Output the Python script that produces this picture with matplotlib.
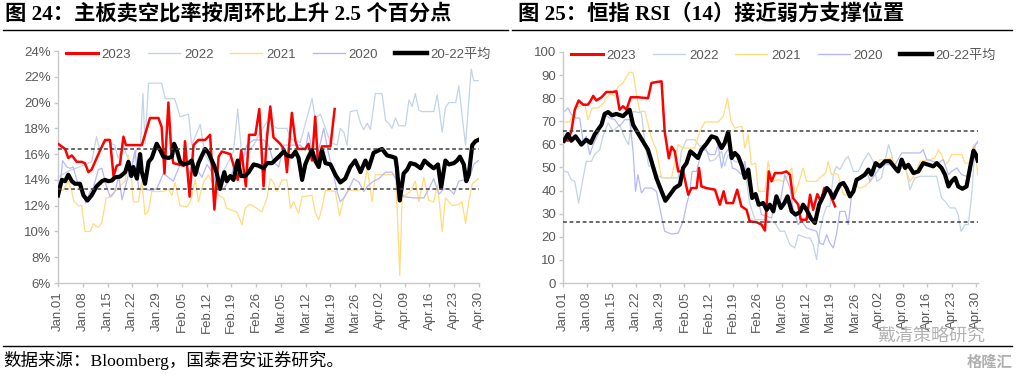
import matplotlib
matplotlib.use("Agg")
import matplotlib.pyplot as plt
from matplotlib.lines import Line2D

plt.rcParams['font.family'] = ['Liberation Sans', 'Noto Sans CJK SC', 'DejaVu Sans']

# ---------------- data ----------------
tick_days = [0, 7, 14, 21, 28, 35, 42, 49, 56, 63, 70, 77, 84, 91, 98, 105, 112, 119]
tick_labels = ["Jan.01", "Jan.08", "Jan.15", "Jan.22", "Jan.29", "Feb.05", "Feb.12", "Feb.19",
               "Feb.26", "Mar.05", "Mar.12", "Mar.19", "Mar.26", "Apr.02", "Apr.09", "Apr.16",
               "Apr.23", "Apr.30"]
series_names = ["2023", "2022", "2021", "2020", "20-22平均"]

# Left panel: short-selling ratio (%)
l23_d = [0, 2, 2.9, 3.9, 5.3, 6.7, 7.6, 8.6, 9.5, 11.9, 13.3, 14.7, 15.7, 16.6, 17.5, 18.5, 19.2, 23.7,
         26, 28.4, 29.3, 30.1, 31.2, 32, 32.6, 35.5, 35.9, 37.2, 38.3, 39.7, 41.6, 43, 44.2, 45.4, 46.3,
         48.7, 50.8, 51.8, 53.1, 54, 55.8, 56.9, 58.1, 59.1, 60, 60.9, 62.8, 64.1, 64.7, 66.1, 67.1,
         67.8, 69.9, 70.8, 71.8, 72.7, 73.5, 74.6, 77, 78.2]
l23_v = [16.8, 16.4, 15.7, 15.9, 15.4, 15.4, 15.3, 14.6, 14.8, 16.3, 17.1, 17.1, 14.3, 15.1, 15.2, 17.35,
         16.7, 16.7, 18.8, 18.8, 18.1, 14.5, 20.0, 16.3, 15.3, 15.1, 17.0, 12.7, 16.7, 17.1, 17.1, 17.5,
         11.7, 15.8, 16.2, 16.0, 14.0, 16.3, 13.5, 17.5, 17.5, 19.5, 13.5, 17.4, 19.7, 17.3, 16.8, 16.3,
         14.6, 19.2, 17.0, 16.4, 16.4, 16.8, 15.5, 18.9, 15.3, 16.6, 16.6, 19.5]

l22_d = [0, 3, 6, 9.5, 10.9, 11.8, 13.6, 16, 17, 18.5, 20.8, 22.3, 23.3, 24, 24.6, 25.6, 29.3, 30.3, 33,
         34.5, 36.9, 37.8, 40.2, 41.6, 45.8, 49.6, 50.8, 52, 55.3, 57.2, 59.1, 61.9, 64.7, 65.7, 68.5,
         71.8, 72.7, 74.2, 75.6, 77, 78.9, 79.8, 80.8, 81.7, 82.6, 84.5, 85.5, 86.4, 87.4, 88.3, 89.7,
         91.6, 92.6, 93.5, 94.4, 95.4, 96.3, 98.2, 99.2, 100.1, 101, 102, 102.9, 106.2, 107.2, 108.6,
         109.5, 110.5, 112.4, 113.3, 114.3, 115.2, 116.1, 116.8, 117.5, 118.8]
l22_v = [14.2, 14.7, 15.0, 15.4, 17.35, 16.3, 17.0, 16.7, 15.7, 16.6, 15.0, 16.4, 16.6, 20.7, 16.8, 21.5,
         21.5, 20.3, 20.3, 18.9, 19.1, 16.7, 18.3, 15.9, 14.1, 16.2, 19.5, 15.7, 16.7, 17.7, 18.5, 18.0,
         18.0, 17.2, 16.9, 20.3, 18.8, 19.1, 18.0, 16.9, 16.7, 18.0, 17.7, 16.7, 19.3, 19.4, 18.4, 17.9,
         18.4, 17.9, 20.7, 20.7, 18.6, 18.4, 18.0, 18.8, 18.2, 18.2, 20.2, 19.7, 20.7, 19.4, 19.3, 19.3,
         20.6, 17.7, 19.6, 20.0, 20.0, 21.3, 18.8, 16.7, 20.1, 22.6, 21.7, 21.7]

l21_d = [0, 1.5, 2.9, 3.9, 4.5, 5.8, 6.7, 7.6, 9.1, 10, 11.4, 12.4, 13.6, 15.2, 16.1, 17.5, 19, 19.9,
         20.8, 21.3, 22.7, 23.7, 24.6, 25.6, 26.5, 29.8, 31.2, 32.2, 33.1, 34.5, 36.4, 37.4, 38.8, 39.7,
         41.1, 42.5, 44, 45.4, 46.8, 47.7, 50.6, 52, 52.9, 54.3, 56.2, 57.6, 59.1, 60, 60.9, 61.9, 63.3,
         64.7, 65.7, 66.6, 68, 69, 71.8, 72.7, 73.7, 74.6, 75.6, 78.4, 79.6, 80.8, 82.2, 84.9, 86.4, 87.4,
         88.8, 89.7, 95.4, 96, 96.6, 97.3, 98.2, 99.6, 101, 102, 103.4, 104.8, 106.2, 107.2, 107.9,
         108.6, 109.5, 110.5, 111.4, 113.3, 114.2, 115.2, 116.1, 117.1, 118.8]
l21_v = [13.1, 13.2, 13.9, 13.1, 12.3, 12.0, 12.0, 10.0, 10.0, 10.6, 10.3, 10.7, 12.6, 12.7, 13.1, 13.5,
         13.9, 15.9, 14.1, 12.3, 12.3, 13.9, 11.3, 11.6, 13.1, 13.1, 13.3, 12.8, 13.8, 12.0, 11.9, 12.3,
         14.0, 12.3, 13.8, 14.4, 13.6, 12.8, 12.6, 11.8, 11.5, 10.5, 11.8, 12.1, 11.8, 11.5, 12.6, 14.1,
         13.8, 13.1, 14.0, 14.0, 11.8, 12.3, 11.4, 12.7, 12.8, 11.5, 10.9, 11.8, 13.2, 13.1, 11.2, 12.6,
         13.2, 13.2, 13.3, 14.9, 12.3, 14.4, 14.4, 10.8, 6.6, 12.8, 12.8, 13.1, 13.9, 12.3, 14.2, 12.4,
         12.3, 13.6, 12.0, 10.0, 12.6, 12.3, 12.0, 12.1, 12.3, 10.6, 12.3, 13.7, 14.1]

l20_d = [0, 0.7, 1.3, 2.5, 3.4, 4.3, 5.7, 7.2, 7.8, 9.1, 10, 11.4, 12.4, 13.6, 14.7, 16.1, 17.2, 18.1,
         19.9, 20.8, 21.8, 22.8, 26.5, 27.9, 29.8, 31.2, 32.6, 34.5, 35.9, 37.4, 39.3, 40.7, 42.1, 44,
         44.9, 46.8, 48.7, 50.1, 51.5, 53.4, 55.3, 58.1, 59.5, 60.9, 62.4, 63.8, 68.5, 69.9, 70.8, 71.8,
         72.7, 74.2, 75.1, 76.5, 77.9, 78.9, 79.8, 80.8, 82.2, 83.6, 85.1, 86.4, 87.8, 89.2, 90.7, 92.6,
         94.4, 95.8, 96.8, 97.7, 100.6, 103.4, 104.8, 106.2, 107.7, 109.1, 110.5, 111.9, 113.3, 114.7,
         115.7, 116.6, 117.5, 118.8]
l20_v = [12.3, 13.8, 15.5, 15.0, 14.9, 15.0, 13.6, 13.1, 12.2, 13.1, 13.4, 14.8, 14.9, 13.6, 12.7, 13.1,
         14.3, 12.45, 14.4, 15.0, 16.3, 13.3, 13.2, 13.3, 14.5, 14.2, 13.9, 15.2, 15.5, 14.4, 14.8, 14.2,
         15.2, 14.4, 13.2, 13.3, 14.1, 15.4, 14.9, 16.7, 17.1, 17.1, 16.7, 15.4, 15.0, 16.7, 16.7, 16.3,
         17.7, 16.3, 15.4, 16.9, 18.0, 16.0, 14.4, 13.1, 12.3, 12.6, 13.3, 14.1, 13.8, 13.1, 13.6, 13.9,
         14.1, 14.6, 14.6, 13.9, 13.1, 12.7, 12.6, 12.6, 13.3, 14.1, 12.9, 13.3, 13.3, 12.9, 13.9, 14.0,
         14.1, 14.4, 15.2, 15.5]

lavg_d = [0, 0.6, 1.1, 2, 2.9, 3.9, 4.8, 6.2, 7.2, 8.3, 9.5, 10.9, 12.4, 13.3, 14.2, 15.2, 16.1, 17.5, 19,
          19.9, 20.7, 21.3, 22.3, 23.2, 23.7, 24.6, 25.6, 26.5, 27.9, 28.9, 29.8, 31.2, 32.2, 32.8, 33.6,
          34.5, 35.5, 36.9, 37.8, 38.8, 39.7, 40.7, 41.6, 42.5, 44, 44.9, 45.8, 47, 47.7, 48.7, 49.6, 50.8,
          51.7, 52.9, 53.9, 55.3, 56.7, 58.1, 59.1, 60.5, 62.4, 63.8, 64.7, 66.1, 67.1, 68, 69, 69.9, 70.8,
          71.8, 72.7, 73.7, 74.6, 75.6, 77, 78.4, 79.8, 81.2, 82.6, 84, 85.5, 86.9, 87.8, 89.2, 90.7, 91.6,
          93, 94.4, 95.4, 95.8, 96.6, 97.7, 98.7, 99.6, 101, 102.5, 103.6, 104.8, 106.2, 107.4, 108.3,
          109.5, 110.5, 111.9, 112.8, 113.6, 114.7, 115.4, 116.1, 117.1, 118, 118.8]
lavg_v = [12.8, 13.5, 14.0, 13.9, 14.4, 13.9, 13.7, 13.7, 12.8, 12.4, 12.8, 13.5, 13.9, 14.0, 13.9, 13.95,
          14.2, 14.25, 14.6, 15.4, 14.3, 15.0, 14.1, 16.0, 14.6, 13.7, 15.4, 15.7, 16.8, 16.3, 15.8, 15.7,
          15.8, 16.8, 16.3, 15.4, 15.2, 15.3, 15.5, 14.4, 15.3, 15.9, 16.4, 16.1, 15.2, 14.5, 13.3, 14.6,
          13.9, 14.3, 14.0, 15.5, 14.3, 14.3, 14.6, 15.2, 15.1, 14.9, 15.3, 15.3, 15.8, 16.2, 15.9, 15.8,
          16.2, 15.7, 14.0, 15.2, 15.8, 16.3, 15.5, 15.0, 16.3, 15.3, 15.2, 14.4, 13.8, 14.1, 15.0, 15.5,
          14.6, 15.5, 14.9, 16.1, 16.3, 16.4, 15.9, 15.8, 15.7, 14.9, 12.4, 14.5, 14.8, 15.3, 15.2, 14.9,
          15.5, 15.2, 14.9, 15.2, 13.4, 15.5, 15.2, 15.3, 15.5, 15.8, 15.2, 13.9, 14.4, 16.7, 17.0, 17.1]
l_bands = [16.4, 13.3]

# Right panel: Hang Seng RSI(14)
r23_d = [0.5, 1.4, 2.4, 3.4, 4.5, 5.8, 7.2, 8, 8.7, 9.6, 11.1, 12.5, 14.4, 15.4, 16.3, 17.3, 18.3, 19.5,
         21.6, 24.5, 25.5, 26.9, 28.4, 29.3, 30.5, 31.3, 32.2, 33.2, 34.6, 36.1, 37, 38.5, 39.2, 39.9,
         41.3, 43.8, 45.2, 46.3, 47.1, 49, 50.2, 51.4, 52.9, 53.8, 55.8, 57.2, 58.2, 59.3, 60.1, 61.1,
         63, 64.4, 65.4, 66.3, 67.8, 68.5, 70.2, 71.2, 72.1, 73.3, 74.3, 75.3, 76.4, 77.4, 78.4]
r23_v = [62, 61.6, 65.7, 75, 79, 77.2, 77.2, 79, 81, 79, 80.4, 82.7, 82.7, 83, 75, 76.5, 75, 80.4, 80.4,
         80, 86.6, 87, 87.3, 65.6, 54, 59, 57, 48.3, 48.3, 38.2, 41.1, 41.1, 49.8, 41.8, 41.1, 40.4, 33.9,
         39.7, 34.6, 34.6, 40.4, 33.2, 31.7, 26.7, 26.3, 25.3, 22.7, 48.3, 44, 47.6, 47.6, 48.3, 46.9,
         36.8, 33.9, 27.4, 27.4, 38.2, 31.7, 38.5, 35.4, 41.1, 41.1, 36.8, 33.2]

r22_d = [0.5, 1.4, 2.4, 3.4, 4.5, 5.5, 6.7, 8.2, 9.1, 10.6, 11.5, 13, 14.4, 16.3, 17.8, 18.9, 20.2, 22.6,
         23.6, 24.7, 26, 27.4, 29.3, 33.2, 34.1, 35.6, 38, 39.4, 40.9, 42.3, 43.8, 45.7, 46.6, 47.6, 49.5,
         51, 52.4, 53.8, 55.3, 58.2, 59.6, 61.1, 62.5, 63.9, 65.4, 66.8, 67.8, 70.2, 71.2, 72.1, 73.1, 74,
         75, 76, 76.9, 77.9, 78.8, 79.8, 81.3, 82.2, 83.7, 85.1, 86.5, 88, 89.4, 90.4, 91.8, 92.8, 93.8,
         94.7, 95.7, 97.1, 98.6, 100, 101.4, 102.9, 107.7, 108.2, 109.1, 110.1, 111.5, 113, 113.9, 114.7,
         115.9, 116.8, 117.8, 118.8, 119.5]
r22_v = [48.3, 48, 44.7, 44, 34.6, 43, 52.7, 52.7, 55.6, 57.7, 63.5, 69.3, 65.7, 68.5, 62.8, 59.9, 74.3,
         73.6, 60.6, 50.5, 51.2, 46.2, 45.5, 45.5, 57, 62, 62, 59.2, 59.9, 52.7, 53.4, 57, 50.5, 55.6,
         52.7, 52, 49.8, 34.6, 27.4, 27.4, 26.7, 26, 22.4, 22.4, 16.6, 15.2, 20.9, 19.5, 19.5, 16.6, 10.1,
         22.4, 28.9, 33.2, 33.2, 46.9, 50.5, 49.1, 53.4, 54.8, 48.3, 48.3, 52.7, 56.3, 52.7, 44, 45.5,
         52.7, 59.9, 55.6, 48.3, 49, 51.2, 40.4, 45.5, 46.2, 46.2, 42.6, 36.8, 35.4, 32.5, 32.5, 29.6,
         22.4, 25.3, 25.3, 38.2, 59.9, 60.6]

r21_d = [0.5, 1.9, 2.9, 3.8, 4.8, 6.3, 7.2, 8.4, 10.1, 11.5, 12.5, 13.5, 14.9, 15.9, 17.3, 18.3, 19.2,
         20.2, 21.2, 22.1, 23.6, 25.5, 26.9, 28.4, 31.3, 33.2, 34.6, 38, 39.4, 40.9, 44.7, 46.2, 47.4,
         48.4, 49.5, 51.6, 52.4, 53.4, 54.3, 55.5, 56.3, 58.2, 59.1, 60.1, 62, 63.5, 64.9, 65.9, 66.8,
         67.8, 69.2, 70.2, 73.1, 74.5, 75.7, 76.4, 77.4, 78.4, 79.3, 80.8, 82.2, 83.2, 84.1, 85.6, 87,
         88.5, 89.9, 91.3, 92.8, 94.7, 96.2, 97.6, 99, 100, 101.4, 102.9, 105.8, 107.2, 108.2, 109.1,
         110.1, 111.1, 112, 114.9, 115.9, 117.3, 118.3, 119, 119.5]
r21_v = [69.7, 69.7, 72.9, 76.5, 76.5, 77.2, 70.7, 75.8, 75.8, 77.5, 80.1, 81.8, 81, 85.1, 86.6, 89.5,
         91.3, 91, 81.5, 74.3, 74.3, 62.8, 57.7, 45.5, 45.5, 59.9, 58.4, 58.4, 65.7, 69.7, 69.7, 72.2,
         80.1, 70, 67.1, 67.8, 58.4, 64.2, 51.2, 51.9, 39.7, 39.7, 52.7, 44, 44.7, 44, 46.9, 49.8, 38.2,
         42.6, 49.8, 44, 44, 46.2, 47.6, 52.7, 46.9, 47.6, 46.9, 38.2, 38.2, 37.5, 42.6, 41.1, 41.8, 44,
         51.2, 53.4, 53.4, 54.1, 49.8, 52.7, 48.3, 44, 46.9, 52.7, 53.4, 54.1, 57.7, 55.6, 51.2, 52.7,
         55.6, 55.6, 51.9, 51.9, 59.9, 55.6, 46.9]

r20_d = [0.5, 1.4, 2.4, 3.8, 4.8, 5.8, 6.7, 7.7, 8.7, 10.1, 11.1, 12, 13.5, 14.9, 16.3, 17.8, 19.2, 20.2,
         20.9, 21.6, 22.6, 23.6, 25.5, 26.9, 27.9, 29.3, 31.3, 33.2, 34.6, 35.6, 36.5, 37.2, 38.5, 39.9,
         40.9, 42.3, 43.8, 44.7, 45.7, 46.6, 47.8, 48.8, 50, 51.4, 52.4, 53.4, 54.8, 56.3, 57.2, 58.7,
         60.1, 61.5, 62.5, 63.9, 65.4, 66.3, 67.8, 68.8, 70.2, 71.6, 73.1, 74, 75, 76, 76.9, 77.9, 78.8,
         79.8, 81.3, 82.2, 83.2, 84.6, 86.1, 87.5, 88.5, 89.9, 91.3, 92.8, 95.7, 97.6, 102.9, 103.8,
         104.8, 108.2, 109.6, 111.1, 112, 113.5, 114.9, 116.3, 117.3, 118.3, 119.5]
r20_v = [74.3, 75.8, 72.9, 71.4, 71.4, 61.3, 63.5, 55.6, 59.9, 64.2, 70, 72.9, 71.4, 70.7, 67.8, 70.7,
         70.7, 57, 39.7, 46.9, 39, 41.1, 41.1, 39.7, 32.5, 22.4, 21.2, 21.6, 26.7, 33.9, 39, 48.3, 48.3,
         57, 57.7, 55.6, 55.6, 59.9, 49.8, 55.6, 58.4, 49.8, 49.1, 46.9, 52.7, 42.6, 36.8, 35.4, 29.6,
         28.9, 28.1, 38.2, 33.9, 46.9, 41.1, 32.5, 25.3, 26.7, 23.8, 23.1, 22.4, 17.3, 16.6, 20.9, 17.3,
         15.2, 20.9, 31, 31, 25.3, 38.2, 44, 46.9, 48.3, 44, 46.9, 49.8, 51.2, 51.2, 56.3, 56.3, 57.7,
         53.4, 52, 53.4, 46.9, 48.3, 49.8, 46.9, 46.2, 46.2, 58.4, 61.3]

ravg_d = [0.3, 1.4, 2.4, 3.6, 5.3, 6.7, 8, 9.1, 10.1, 11.1, 12, 13, 14.1, 15.4, 17.3, 19.2, 20.2, 21.6,
          23.6, 24.5, 25.5, 26.9, 28.4, 29.5, 30.8, 32.2, 33.7, 34.6, 35.6, 36.7, 37.8, 38.9, 39.9, 41.3,
          42.8, 44.2, 45.7, 46.6, 47.6, 48.6, 49.5, 50.5, 51.6, 52.4, 53.4, 54.5, 55.5, 56.4, 57.7, 58.7,
          59.6, 60.6, 61.5, 62.8, 63.8, 64.7, 65.9, 67, 68.3, 69.2, 70.2, 71.4, 72.6, 73.8, 75, 76, 76.9,
          77.9, 78.8, 79.8, 80.8, 81.7, 82.7, 83.7, 84.6, 85.6, 87, 88, 88.9, 90.1, 91.3, 92.8, 94.2, 95.7,
          96.6, 97.6, 98.6, 99.5, 101, 102.4, 103.8, 105.3, 106.7, 107.7, 109.1, 110.1, 111.1, 112, 113,
          113.9, 115.1, 116.3, 117.3, 118.3, 119, 119.5]
ravg_v = [61.6, 64.5, 61.6, 63.5, 59.9, 62, 60.6, 64.2, 66.4, 68.5, 73.2, 74, 72.6, 73.2, 72.2, 75, 68.5,
          64.9, 59.9, 57.7, 52.7, 45.5, 39.7, 35.6, 38.2, 41.1, 42.6, 49.8, 51.9, 57, 55.6, 54.1, 57.7,
          60.2, 63.5, 62.8, 58.4, 60.6, 65.4, 54.1, 56.3, 54.8, 50.5, 45.5, 49.1, 36.8, 38.5, 33.9, 34.6,
          31.7, 33.9, 31, 37.5, 32.5, 34.6, 37.5, 31, 29.6, 30.7, 33.9, 31.7, 28.1, 26, 33.9, 37.5, 41.1,
          39.7, 36.8, 39.7, 42.6, 43.3, 41.1, 37.5, 39.7, 44.7, 45.5, 46.9, 49.1, 46.9, 51.9, 50.5, 52.7,
          52.7, 49.8, 48.3, 53.4, 49.8, 51.2, 47.6, 48.3, 51.9, 51.2, 50.5, 51.9, 49.8, 46.9, 41.8, 44,
          45.5, 41.8, 40.8, 41.8, 49.8, 57.3, 55.6, 53]
r_bands = [65.6, 26.2]

# ---------------- styling ----------------
C23, C22, C21, C20, CAVG = "#ff0000", "#c3d4e6", "#ffdc80", "#b8b8f8", "#000000"
TXT = "#595959"
W, H = 1019, 376
SERIF_CJK = ["Liberation Serif", "Noto Sans CJK SC", "DejaVu Sans"]

fig = plt.figure(figsize=(W / 100, H / 100), dpi=100)


def draw_panel(ax, s23, s22, s21, s20, savg, bands, ylim, yticks, yfmt, xmax):
    ax.plot(*s22, color=C22, lw=0.9, zorder=2)
    ax.plot(*s21, color=C21, lw=0.9, zorder=2)
    ax.plot(*s20, color=C20, lw=0.9, zorder=2)
    ax.plot(*s23, color=C23, lw=1.8, zorder=3)
    ax.plot(*savg, color=CAVG, lw=3.0, zorder=4)
    for b in bands:
        ax.axhline(b, color="#404040", lw=1.1, ls=(0, (2.5, 1.8)), zorder=5)
    ax.set_xlim(0, xmax)
    ax.set_ylim(*ylim)
    ax.set_yticks(yticks)
    ax.set_yticklabels([yfmt(v) for v in yticks])
    ax.set_xticks(tick_days)
    ax.set_xticklabels(tick_labels, rotation=90)
    for s in ("top", "right"):
        ax.spines[s].set_visible(False)
    for s in ("left", "bottom"):
        ax.spines[s].set_color("#c8c8c8")
        ax.spines[s].set_linewidth(1.0)
    ax.tick_params(axis="both", colors="#c8c8c8", labelcolor=TXT, labelsize=9.5, length=3, width=1.0,
                   pad=2)
    ax.tick_params(axis="x", pad=3)
    handles = [Line2D([], [], color=C23, lw=2.2), Line2D([], [], color=C22, lw=1.0),
               Line2D([], [], color=C21, lw=1.0), Line2D([], [], color=C20, lw=1.0),
               Line2D([], [], color=CAVG, lw=3.2)]
    leg = ax.legend(handles, series_names, loc="upper left", bbox_to_anchor=(0.0, 1.045), ncol=5,
                    frameon=False, fontsize=9.5, handlelength=2.4, handletextpad=0.3,
                    columnspacing=1.3, borderaxespad=0.2)
    for t in leg.get_texts():
        t.set_color(TXT)


axL = fig.add_axes([58 / W, 1 - 283 / H, (479 - 58) / W, (283 - 51) / H])
draw_panel(axL, (l23_d, l23_v), (l22_d, l22_v), (l21_d, l21_v), (l20_d, l20_v), (lavg_d, lavg_v),
           l_bands, (6, 24), list(range(6, 25, 2)), lambda v: f"{v}%", 119)

axR = fig.add_axes([563 / W, 1 - 283 / H, (978 - 563) / W, (283 - 52) / H])
draw_panel(axR, (r23_d, r23_v), (r22_d, r22_v), (r21_d, r21_v), (r20_d, r20_v), (ravg_d, ravg_v),
           r_bands, (0, 100), list(range(0, 101, 10)), lambda v: f"{v}", 119.6)

# titles and rules
title_font = dict(family=SERIF_CJK, fontsize=15.3, fontweight="bold",
                  color="black", va="center", ha="left")
fig.text(5 / W, 1 - 14.5 / H, "图 24：主板卖空比率按周环比上升 2.5 个百分点", **title_font)
fig.text(518 / W, 1 - 14.5 / H, "图 25：恒指 RSI（14）接近弱方支撑位置", **title_font)

fig.add_artist(Line2D([3 / W, 508 / W], [1 - 29.5 / H] * 2, color="black", lw=1.0))
fig.add_artist(Line2D([512 / W, 1012 / W], [1 - 29.5 / H] * 2, color="black", lw=1.0))
fig.add_artist(Line2D([3 / W, 1012 / W], [1 - 345.5 / H] * 2, color="black", lw=1.0))

fig.text(3 / W, 1 - 360 / H, "数据来源：Bloomberg，国泰君安证券研究。",
         family=SERIF_CJK, fontsize=12.6, color="black", va="center", ha="left")

# watermark
fig.text(985 / W, 1 - 336 / H, "戴清策略研究", family=["Noto Sans CJK SC", "DejaVu Sans"],
         fontsize=13, color="#a0a0a0", alpha=0.8, ha="right", va="center")
fig.text(1012 / W, 1 - 362 / H, "格隆汇", family=["Noto Sans CJK SC", "DejaVu Sans"],
         fontsize=11, color="#b0b0b0", ha="right", va="center", fontweight="bold")

fig.savefig("out.png", dpi=100)
